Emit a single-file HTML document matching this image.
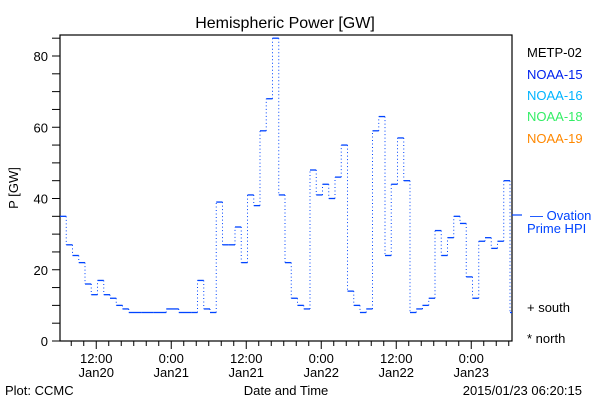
<!DOCTYPE html>
<html><head><meta charset="utf-8"><style>
body{margin:0;background:#fff;}
svg{display:block;font-family:"Liberation Sans",sans-serif;}
</style></head><body>
<svg width="600" height="400" viewBox="0 0 600 400">
<rect width="600" height="400" fill="#fff"/>
<text x="285" y="28" font-size="16" text-anchor="middle">Hemispheric Power [GW]</text>
<rect x="60" y="35" width="452" height="306" fill="none" stroke="#000" stroke-width="1.2"/>
<g id="yaxis"></g>
<g id="xaxis"></g>
<g id="series"></g>
<text x="18" y="188" font-size="13" text-anchor="middle" transform="rotate(-90 18 188)">P [GW]</text>
<text x="286" y="395" font-size="13" text-anchor="middle">Date and Time</text>
<text x="5" y="395" font-size="13">Plot: CCMC</text>
<text x="582" y="395" font-size="13" text-anchor="end">2015/01/23 06:20:15</text>
<g font-size="13">
<text x="527" y="57" fill="#000">METP-02</text>
<text x="527" y="79" fill="#0022ee">NOAA-15</text>
<text x="527" y="100" fill="#00b4ff">NOAA-16</text>
<text x="527" y="121" fill="#33ee66">NOAA-18</text>
<text x="527" y="143" fill="#ff8800">NOAA-19</text>
<line x1="512" y1="215" x2="522" y2="215" stroke="#0044ff" stroke-width="1.2"/>
<text x="530" y="220" fill="#0044ff">— Ovation</text>
<text x="527" y="233" fill="#0044ff">Prime HPI</text>
<text x="527" y="312" fill="#000">+ south</text>
<text x="527" y="343" fill="#000">* north</text>
</g>
</svg>
<script>
const hourlyPower=[35,27,24,22,16,13,17,13,12,10,9,8,8,8,8,8,8,9,9,8,8,8,17,9,8,39,27,27,32,22,41,38,59,68,85,41,22,12,10,9,48,41,44,40,46,55,14,10,8,9,59,63,24,44,57,45,8,9,10,12,31,24,29,35,33,18,12,28,29,26,28,45,8];
const yTickLabels=["0","20","40","60","80"];
const xTickLabels=[["12:00","Jan20"],["0:00","Jan21"],["12:00","Jan21"],["0:00","Jan22"],["12:00","Jan22"],["0:00","Jan23"]];
const NS="http://www.w3.org/2000/svg";
const L=60,R=512,B=341;
const y=v=>B-v*3.5625;
const x=h=>L+h*6.25;
function mk(t,a,p){const e=document.createElementNS(NS,t);for(const k in a)e.setAttribute(k,a[k]);p.appendChild(e);return e;}
const ya=document.getElementById('yaxis');
for(let v=0;v<=85;v+=5){const l=mk('line',{x1:52,x2:L,y1:y(v),y2:y(v),stroke:'#000','stroke-width':1},ya);

}
yTickLabels.forEach(s=>{const t=mk('text',{x:48,y:y(+s)+5,'font-size':13,'text-anchor':'end'},ya);t.textContent=s;

});
const xa=document.getElementById('xaxis');
const first=5.8;
for(let h=first-4;h<=72;h+=2){if(h<0)continue;const major=Math.abs(((h-first)%12+12)%12)<0.01;
const l=mk('line',{x1:x(h),x2:x(h),y1:B,y2:B+(major?8:5),stroke:'#000','stroke-width':1},xa);

}
xTickLabels.forEach((p,i)=>{const cx=x(first+12*i);
const t1=mk('text',{x:cx,y:363,'font-size':13,'text-anchor':'middle'},xa);t1.textContent=p[0];


const t2=mk('text',{x:cx,y:377,'font-size':13,'text-anchor':'middle'},xa);t2.textContent=p[1];

});
const sg=document.getElementById('series');
const n=hourlyPower.length;
for(let i=0;i<n;i++){const x1=x(i),x2=Math.min(x(i+1),R);if(x1>=R){break;}
const s=mk('line',{x1:x1,x2:x2,y1:y(hourlyPower[i]),y2:y(hourlyPower[i]),stroke:'#0044ff','stroke-width':1.3},sg);


if(i+1<n){const xe=Math.min(x(i+1),R);
const d=mk('line',{x1:xe,x2:xe,y1:y(hourlyPower[i]),y2:y(hourlyPower[i+1]),stroke:'#0044ff','stroke-width':1,'stroke-dasharray':'1,2.5'},sg);

}}
</script>
</body></html>
